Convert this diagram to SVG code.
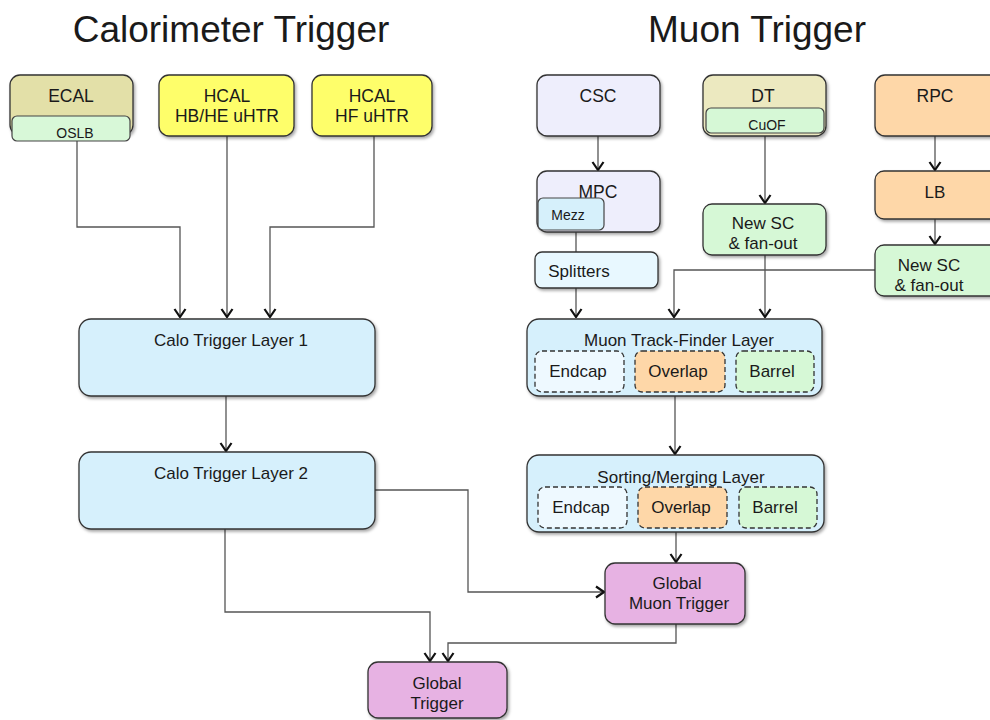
<svg xmlns="http://www.w3.org/2000/svg" width="990" height="720" viewBox="0 0 990 720">
<style>
text{font-family:"Liberation Sans",Arial,sans-serif;fill:#1a1a1a;text-anchor:middle}
.t{font-size:37px}
.n{font-size:17px}
.m{font-size:17.5px}
.s{font-size:14px}
.box{stroke:#333;stroke-width:1.3;filter:url(#sh)}
.sub{stroke:#444;stroke-width:1.2}
.dash{stroke:#333;stroke-width:1.3;stroke-dasharray:5,3}
.c{fill:none;stroke:#555;stroke-width:1.3;marker-end:url(#ar)}
.cn{fill:none;stroke:#555;stroke-width:1.3}
</style>
<defs>
<filter id="sh" x="-10%" y="-10%" width="130%" height="140%">
<feDropShadow dx="1.5" dy="2" stdDeviation="1.5" flood-color="#000" flood-opacity="0.35"/>
</filter>
<marker id="ar" viewBox="-10 -7 11 14" refX="0" refY="0" markerWidth="11" markerHeight="14" markerUnits="userSpaceOnUse" orient="auto">
<path d="M-8,-5.5 L0,0 L-8,5.5" fill="none" stroke="#111" stroke-width="2.2"/>
</marker>
</defs>
<rect width="990" height="720" fill="#fff"/>
<text class="t" x="231" y="42">Calorimeter Trigger</text>
<text class="t" x="757" y="42">Muon Trigger</text>

<g id="connectors">
<path class="c" d="M77,141 V227 H180 V317"/>
<path class="c" d="M227,136 V317"/>
<path class="c" d="M374,136 V227 H270 V317"/>
<path class="c" d="M226,396 V451"/>
<path class="c" d="M375,490 H468 V592 H604"/>
<path class="c" d="M225,529 V612 H430 V661"/>
<path class="c" d="M676,624 V643 H448 V661"/>
<path class="c" d="M598,136 V170"/>
<path class="cn" d="M576,230 V252"/>
<path class="c" d="M576,288 V317"/>
<path class="c" d="M765,133 V203"/>
<path class="c" d="M765,255 V317"/>
<path class="c" d="M935,136 V170"/>
<path class="c" d="M935,219 V244"/>
<path class="c" d="M875,270 H674 V317"/>
<path class="c" d="M675,396 V454"/>
<path class="c" d="M676,532 V562"/>
</g>

<g id="ecal">
<rect class="box" x="10" y="75" width="123" height="60" rx="10" fill="#e3e0a8"/>
<text class="m" x="71" y="102">ECAL</text>
<rect class="sub" x="12" y="116" width="118" height="25" rx="5" fill="#d8f8d8"/>
<text class="s" x="75" y="138">OSLB</text>
</g>
<g id="hcal-hbhe">
<rect class="box" x="159" y="75" width="135" height="61" rx="10" fill="#fefe6a"/>
<text class="m" x="227" y="102">HCAL</text>
<text class="m" x="227" y="122">HB/HE uHTR</text>
</g>
<g id="hcal-hf">
<rect class="box" x="312" y="75" width="120" height="61" rx="10" fill="#fefe6a"/>
<text class="m" x="372" y="102">HCAL</text>
<text class="m" x="372" y="122">HF uHTR</text>
</g>
<g id="calo-l1">
<rect class="box" x="79" y="319" width="296" height="77" rx="12" fill="#d6f0fc"/>
<text class="n" x="231" y="346">Calo Trigger Layer 1</text>
</g>
<g id="calo-l2">
<rect class="box" x="79" y="452" width="296" height="77" rx="12" fill="#d6f0fc"/>
<text class="n" x="231" y="479">Calo Trigger Layer 2</text>
</g>
<g id="global-trigger">
<rect class="box" x="368" y="662" width="139" height="56" rx="10" fill="#e7b2e3"/>
<text class="n" x="437" y="689">Global</text>
<text class="n" x="437" y="709">Trigger</text>
</g>
<g id="global-muon-trigger">
<rect class="box" x="605" y="563" width="140" height="61" rx="10" fill="#e7b2e3"/>
<text class="n" x="677" y="589">Global</text>
<text class="n" x="679" y="609">Muon Trigger</text>
</g>

<g id="csc">
<rect class="box" x="537" y="75" width="123" height="61" rx="10" fill="#eeeefc"/>
<text class="m" x="598" y="102">CSC</text>
</g>
<g id="dt">
<rect class="box" x="703" y="75" width="123" height="61" rx="10" fill="#ece9c0"/>
<text class="m" x="763" y="102">DT</text>
<rect class="sub" x="706" y="108" width="118" height="25" rx="5" fill="#d6f8d6"/>
<text class="s" x="767" y="130">CuOF</text>
</g>
<g id="rpc">
<rect class="box" x="875" y="75" width="125" height="61" rx="10" fill="#fed7a8"/>
<text class="m" x="935" y="102">RPC</text>
</g>
<g id="mpc">
<rect class="box" x="537" y="171" width="123" height="61" rx="10" fill="#eeeefc"/>
<text class="m" x="598" y="198">MPC</text>
<rect class="sub" x="538" y="198" width="66" height="32" rx="5" fill="#d6f0fb"/>
<text class="s" x="568" y="220">Mezz</text>
</g>
<g id="splitters">
<rect class="box" x="535" y="252" width="123" height="36" rx="7" fill="#e8f8ff"/>
<text class="n" x="579" y="277">Splitters</text>
</g>
<g id="newsc-dt">
<rect class="box" x="703" y="204" width="123" height="51" rx="9" fill="#d6f8d6"/>
<text class="n" x="763" y="229">New SC</text>
<text class="n" x="763" y="249">&amp; fan-out</text>
</g>
<g id="lb">
<rect class="box" x="875" y="171" width="125" height="48" rx="9" fill="#fed7a8"/>
<text class="n" x="935" y="198">LB</text>
</g>
<g id="newsc-rpc">
<rect class="box" x="875" y="245" width="125" height="51" rx="9" fill="#d6f8d6"/>
<text class="n" x="929" y="271">New SC</text>
<text class="n" x="929" y="291">&amp; fan-out</text>
</g>
<g id="track-finder">
<rect class="box" x="527" y="319" width="295" height="77" rx="12" fill="#d6f0fc"/>
<text class="n" x="679" y="346">Muon Track-Finder Layer</text>
<rect class="dash" x="535" y="351" width="89" height="41" rx="7" fill="#eef9ff"/>
<text class="n" x="578" y="377">Endcap</text>
<rect class="dash" x="635" y="351" width="90" height="41" rx="7" fill="#fed7a8"/>
<text class="n" x="678" y="377">Overlap</text>
<rect class="dash" x="736" y="351" width="78" height="41" rx="7" fill="#d6f8d6"/>
<text class="n" x="772" y="377">Barrel</text>
</g>
<g id="sorting-merging">
<rect class="box" x="527" y="455" width="297" height="77" rx="12" fill="#d6f0fc"/>
<text class="n" x="681" y="483">Sorting/Merging Layer</text>
<rect class="dash" x="538" y="487" width="89" height="41" rx="7" fill="#eef9ff"/>
<text class="n" x="581" y="513">Endcap</text>
<rect class="dash" x="638" y="487" width="89" height="41" rx="7" fill="#fed7a8"/>
<text class="n" x="681" y="513">Overlap</text>
<rect class="dash" x="739" y="487" width="78" height="41" rx="7" fill="#d6f8d6"/>
<text class="n" x="775" y="513">Barrel</text>
</g>
</svg>
